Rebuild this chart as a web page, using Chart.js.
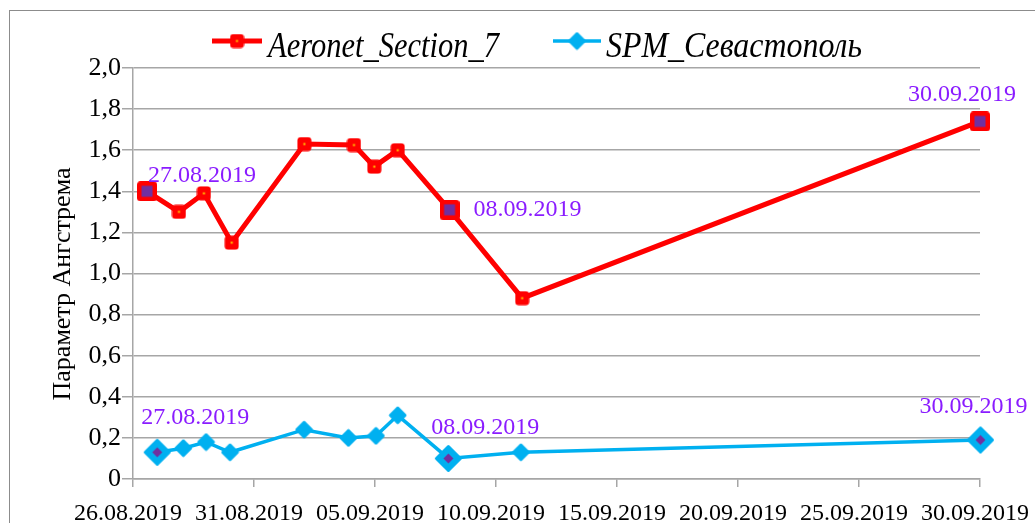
<!DOCTYPE html>
<html>
<head>
<meta charset="utf-8">
<title>Параметр Ангстрема</title>
<script src="https://cdn.jsdelivr.net/npm/chart.js@4/dist/chart.umd.min.js"></script>
<style>
  html, body { margin: 0; padding: 0; background: #fff; overflow: hidden; font-family: "Liberation Serif", "DejaVu Serif", serif; }
  #wrap { position: relative; width: 1035px; height: 523px; }
  #frame { position: absolute; left: 9px; top: 10px; width: 1100px; height: 600px; border: 1.5px solid #8c8c8c; }
  #chart { position: absolute; left: 0; top: 0; }
</style>
</head>
<body>
<div id="wrap">
  <div id="frame"></div>
  <canvas id="chart" width="1035" height="523"></canvas>
</div>
<script>
// days counted from 26.08.2019 (x axis is a date axis)
const seriesNames = ['Aeronet_Section_7', 'SPM_Севастополь'];
const aeroDays = [0.58, 1.9, 2.93, 4.08, 7.08, 9.13, 9.97, 10.94, 13.08, 16.08, 35.0];
const aeroVals = [1.40, 1.30, 1.39, 1.15, 1.63, 1.625, 1.52, 1.60, 1.31, 0.88, 1.74];
const spmDays  = [1.0, 2.08, 3.02, 4.01, 7.07, 8.9, 10.04, 10.94, 13.03, 16.03, 35.02];
const spmVals  = [0.13, 0.15, 0.18, 0.13, 0.24, 0.20, 0.21, 0.31, 0.10, 0.13, 0.19];
const markedIdx = [0, 8, 10];
const markedLabels = ['27.08.2019', '08.09.2019', '30.09.2019'];
const xTickLabels = ['26.08.2019', '31.08.2019', '05.09.2019', '10.09.2019',
                     '15.09.2019', '20.09.2019', '25.09.2019', '30.09.2019'];
const yTickLabels = ['0', '0,2', '0,4', '0,6', '0,8', '1,0', '1,2', '1,4', '1,6', '1,8', '2,0'];
const yTitle = 'Параметр Ангстрема';

const RED = '#ff0000';
const BLUE = '#00b0f0';
const PURPLE = '#7030a0';
const LABEL = '#8a1cff';
const GRID = '#a6a6a6';
const SERIF = '"Liberation Serif", "DejaVu Serif", serif';

// ── Marker images ─────────────────────────────────────────────────────────
function makeMarker(size, draw) {
  const c = document.createElement('canvas');
  c.width = c.height = size;
  draw(c.getContext('2d'), size / 2);
  return c;
}
function diamond(ctx, cx, r) {
  ctx.beginPath();
  ctx.moveTo(cx, cx - r); ctx.lineTo(cx + r, cx); ctx.lineTo(cx, cx + r); ctx.lineTo(cx - r, cx);
  ctx.closePath();
}
const redDot = makeMarker(15, (ctx, c) => {
  ctx.fillStyle = RED;
  ctx.beginPath(); ctx.roundRect(0.5, 0.5, 14, 14, 3.5); ctx.fill();
  ctx.fillStyle = '#ffd200';
  ctx.fillRect(c - 1, c - 1, 2, 2);
});
const redMark = makeMarker(20, (ctx, c) => {
  ctx.fillStyle = RED;
  ctx.beginPath(); ctx.roundRect(0, 0, 20, 20, 3.5); ctx.fill();
  ctx.fillStyle = PURPLE;
  ctx.fillRect(4.5, 4.5, 11, 11);
});
const blueDot = makeMarker(19, (ctx, c) => {
  ctx.fillStyle = BLUE; ctx.strokeStyle = BLUE; ctx.lineJoin = 'round'; ctx.lineWidth = 2.5;
  diamond(ctx, c, 7.5); ctx.fill(); ctx.stroke();
});
const blueMark = makeMarker(29, (ctx, c) => {
  ctx.fillStyle = BLUE; ctx.strokeStyle = BLUE; ctx.lineJoin = 'round'; ctx.lineWidth = 3;
  diamond(ctx, c, 12); ctx.fill(); ctx.stroke();
  ctx.fillStyle = PURPLE;
  diamond(ctx, c, 5); ctx.fill();
});

// ── Custom drawing: legend, title, data labels ────────────────────────────
function fitText(ctx, text, x, y, width) {
  const w = ctx.measureText(text).width;
  ctx.save();
  ctx.translate(x, y);
  ctx.scale(width / w, 1);
  ctx.textAlign = 'left';
  ctx.fillText(text, 0, 0);
  ctx.restore();
}

const decorPlugin = {
  id: 'decor',
  afterDraw(chart) {
    const ctx = chart.ctx;
    ctx.save();

    // legend
    ctx.font = 'italic 36px ' + SERIF;
    ctx.fillStyle = '#000';
    ctx.textBaseline = 'alphabetic';
    const legend = [
      { line: RED, width: 5, img: redDot, x0: 212, x1: 262, tx: 268, tw: 231 },
      { line: BLUE, width: 3.5, img: blueDot, x0: 553, x1: 601, tx: 606, tw: 256 }
    ];
    legend.forEach((it, i) => {
      ctx.strokeStyle = it.line; ctx.lineWidth = it.width;
      ctx.beginPath(); ctx.moveTo(it.x0, 41); ctx.lineTo(it.x1, 41); ctx.stroke();
      ctx.drawImage(it.img, (it.x0 + it.x1) / 2 - it.img.width / 2, 41 - it.img.height / 2);
      fitText(ctx, seriesNames[i], it.tx, 57, it.tw);
    });

    // y axis title
    ctx.font = '26px ' + SERIF;
    ctx.textBaseline = 'middle';
    ctx.save();
    ctx.translate(63, 284);
    ctx.rotate(-Math.PI / 2);
    ctx.textAlign = 'center';
    ctx.fillText(yTitle, 0, 0);
    ctx.restore();

    // data labels on marked points
    ctx.font = '24px ' + SERIF;
    ctx.fillStyle = LABEL;
    ctx.textAlign = 'center';
    const offs = [
      [[55, -16], [78, 0], [-18, -27]],
      [[38, -35], [37, -31], [-7, -33]]
    ];
    [0, 1].forEach(ds => {
      const pts = chart.getDatasetMeta(ds).data;
      markedIdx.forEach((idx, k) => {
        const p = pts[idx];
        ctx.fillText(markedLabels[k], p.x + offs[ds][k][0], p.y + offs[ds][k][1]);
      });
    });
    ctx.restore();
  }
};

// ── Chart ─────────────────────────────────────────────────────────────────
const pointsOf = (days, vals) => days.map((d, i) => ({ x: d, y: vals[i] }));

function build() {
  new Chart(document.getElementById('chart'), {
    type: 'line',
    data: {
      datasets: [
        {
          label: seriesNames[0],
          data: pointsOf(aeroDays, aeroVals),
          borderColor: RED,
          borderWidth: 5,
          pointStyle: c => markedIdx.includes(c.dataIndex) ? redMark : redDot,
          pointRadius: 8,
          tension: 0,
          clip: false
        },
        {
          label: seriesNames[1],
          data: pointsOf(spmDays, spmVals),
          borderColor: BLUE,
          borderWidth: 3.5,
          pointStyle: c => markedIdx.includes(c.dataIndex) ? blueMark : blueDot,
          pointRadius: 8,
          tension: 0,
          clip: false
        }
      ]
    },
    options: {
      responsive: false,
      animation: false,
      devicePixelRatio: 1,
      layout: { padding: { top: 68, right: 55, left: 0, bottom: 0 } },
      plugins: { legend: { display: false }, tooltip: { enabled: false } },
      scales: {
        x: {
          type: 'linear',
          min: 0, max: 35,
          afterFit: s => { s.height = 44; s.paddingLeft = 0; s.paddingRight = 0; },
          ticks: {
            stepSize: 5,
            callback: (v, i) => xTickLabels[i],
            color: '#000',
            font: { family: SERIF, size: 24 },
            padding: 12,
            labelOffset: -5,
            maxRotation: 0,
            autoSkip: false
          },
          grid: { drawOnChartArea: false, drawTicks: true, tickLength: 8, color: GRID, lineWidth: 1.5 },
          border: { color: GRID, width: 1.5 }
        },
        y: {
          min: 0, max: 2,
          afterFit: s => { s.width = 133; s.paddingTop = 0; s.paddingBottom = 0; },
          ticks: {
            stepSize: 0.2,
            callback: (v, i) => yTickLabels[i],
            color: '#000',
            font: { family: SERIF, size: 26 },
            padding: 1
          },
          grid: { color: GRID, lineWidth: 1.5, tickLength: 11 },
          border: { color: GRID, width: 1.5 }
        }
      }
    },
    plugins: [decorPlugin]
  });
}

Promise.all([
  document.fonts.load('24px "Liberation Serif"'),
  document.fonts.load('italic 36px "Liberation Serif"')
]).then(build, build);
</script>
</body>
</html>
